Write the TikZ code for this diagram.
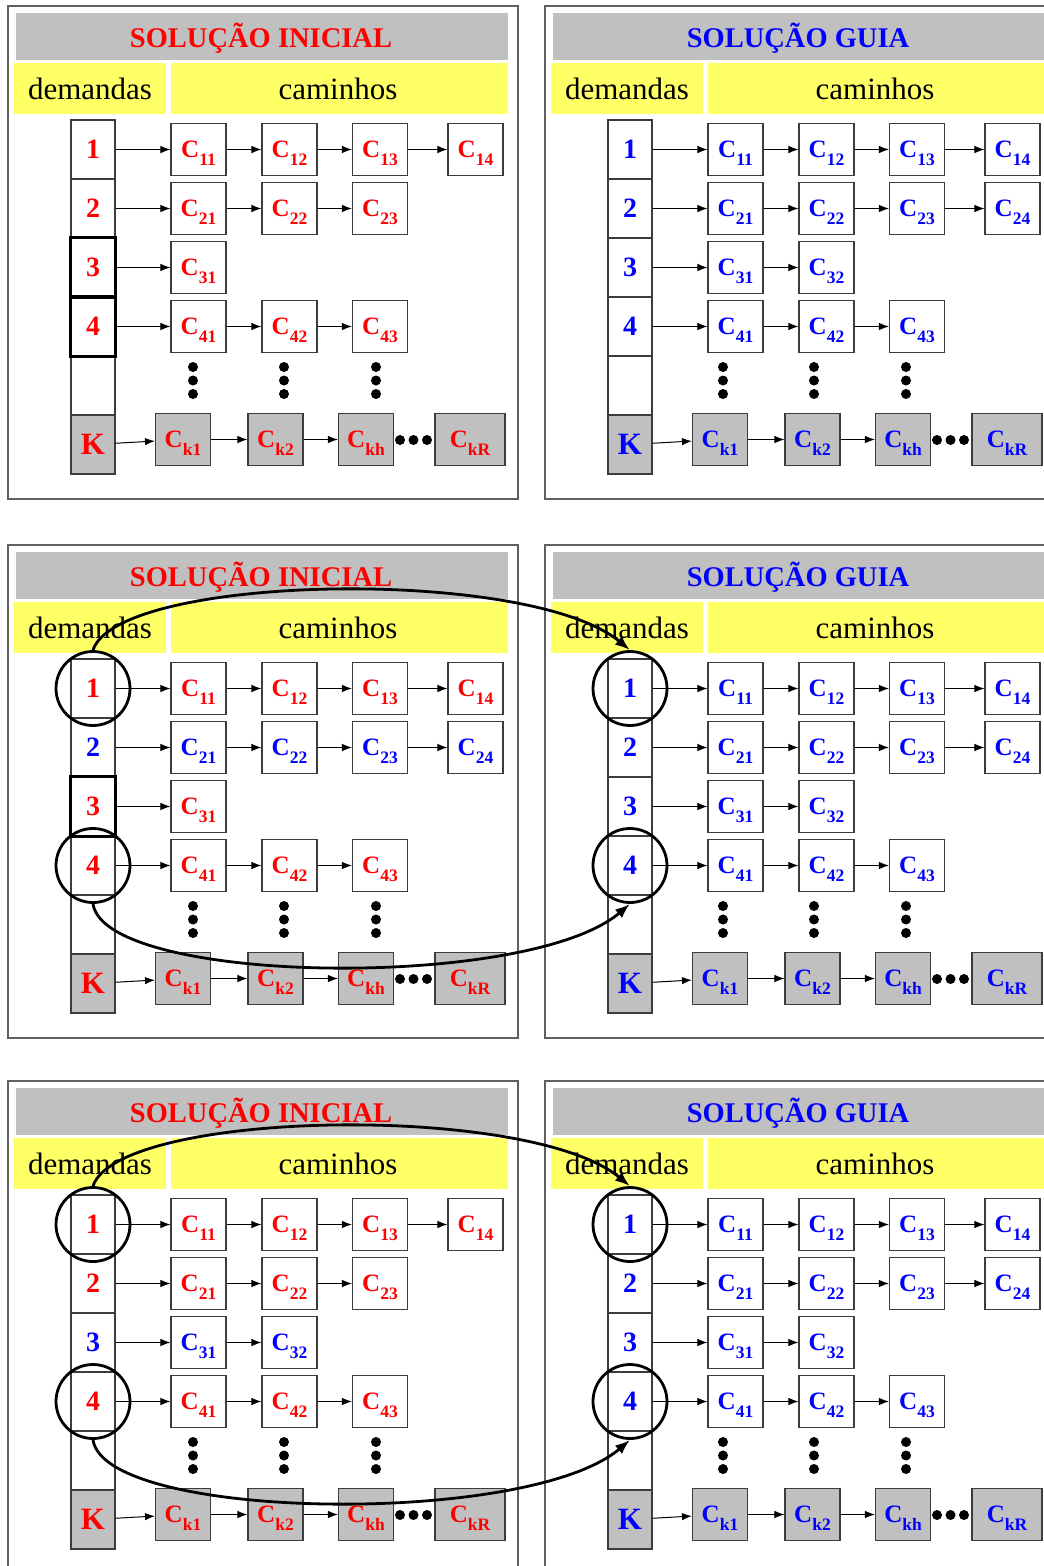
\documentclass[tikz,border=0pt]{standalone}
\usepackage{fontspec}
\setmainfont{Liberation Serif}
\usetikzlibrary{arrows.meta}
\definecolor{inired}{RGB}{255,0,0}
\definecolor{guiablue}{RGB}{0,0,255}
\definecolor{bargray}{RGB}{192,192,192}
\definecolor{headyellow}{RGB}{255,255,102}
\definecolor{framegray}{RGB}{96,96,96}
\definecolor{edgegray}{RGB}{60,60,60}
\newcommand{\csub}[1]{C\raisebox{-8pt}{\fontsize{17.5}{18}\selectfont #1}}

\begin{document}
\begin{tikzpicture}[x=1pt, y=-1pt, >=Latex, line join=miter,
  panel/.style={draw=framegray, line width=1.4pt},
  titletext/.style={font=\fontsize{28.5}{30}\selectfont\bfseries, inner sep=0pt, anchor=base},
  headtext/.style={font=\fontsize{31}{33}\selectfont, inner sep=0pt, anchor=base},
  demcell/.style={draw=edgegray, line width=1.1pt, minimum width=44pt, minimum height=59pt,
    inner sep=0pt, font=\fontsize{28}{28}\selectfont\bfseries},
  thickcell/.style={draw=black, line width=2.2pt},
  pathbox/.style={draw=edgegray, line width=1.1pt, minimum width=55pt, minimum height=52pt,
    inner sep=0pt, text height=20pt, text depth=4pt, font=\fontsize{25}{25}\selectfont\bfseries},
  kbox/.style={pathbox, fill=bargray},
  link/.style={-{Latex[length=10pt,width=7.5pt]}, line width=1pt},
  ring/.style={circle, draw, line width=2.8pt, minimum size=74pt, inner sep=0pt},
  swaparrow/.style={-{Latex[length=15pt,width=11pt]}, line width=2.8pt},
]
\useasboundingbox (0,0) rectangle (1044,1566);
\clip (0,0) rectangle (1044,1566);
\fill[white] (0,0) rectangle (1044,1566);

% ---------- six panels: initial solution (left), guide solution (right) ----------
\foreach \px/\py/\dsh/\ttl/\pcol/\colA/\colB/\colC/\colD/\lenA/\lenB/\lenC/\lenD [count=\i] in {
    0/0/0/INICIAL/inired/inired/inired/inired/inired/4/3/1/3,
    537/0/-7/GUIA/guiablue/guiablue/guiablue/guiablue/guiablue/4/4/2/3,
    0/539/0/INICIAL/inired/inired/guiablue/inired/inired/4/4/1/3,
    537/539/-7/GUIA/guiablue/guiablue/guiablue/guiablue/guiablue/4/4/2/3,
    0/1075/0/INICIAL/inired/inired/inired/guiablue/inired/4/3/2/3,
    537/1075/-7/GUIA/guiablue/guiablue/guiablue/guiablue/guiablue/4/4/2/3} {
\begin{scope}[shift={(\px,\py)}]
  \draw[panel] (8,6) rectangle (518,499);
  \fill[bargray] (16,13) rectangle (508,60);
  \fill[headyellow] (14,63) rectangle (166,114);
  \fill[headyellow] (171,63) rectangle (508,114);
  \node[titletext, text=\pcol] (title\i) at (261,47) {SOLUÇÃO \ttl};
  \node[headtext] (dem\i) at (90,99) {demandas};
  \node[headtext] (cam\i) at (338,99) {caminhos};

  % demands 1-4 and their paths
  \foreach \row/\rcol/\len in {1/\colA/\lenA, 2/\colB/\lenB, 3/\colC/\lenC, 4/\colD/\lenD} {
    \pgfmathsetmacro\ry{149.5+59*(\row-1)}
    \node[demcell, text=\rcol] (d\i-\row) at (93,\ry) {\row};
    \foreach \kk in {1,...,\len} {
      \pgfmathsetmacro\cx{{198.5,289.5,380,475.5}[\kk-1]}
      \pgfmathtruncatemacro\kp{\kk-1}
      \node[pathbox, text=\rcol] (c\i-\row-\kk) at (\cx,\ry) {\csub{\row\kk}};
      \ifnum\kk=1
        \draw[link] (d\i-\row) -- (c\i-\row-\kk);
      \else
        \draw[link] (c\i-\row-\kp) -- (c\i-\row-\kk);
      \fi
    }
  }

  % demand K
  \node[demcell] (d\i-5) at (93,385.5) {};
  \node[demcell, fill=bargray, text=\pcol, font=\fontsize{31}{31}\selectfont\bfseries] (d\i-k) at (93,444.5) {K};
  \foreach \kl/\cx/\kw in {1/183/55, 2/275.5/55, h/366/55, R/470/70}
    \node[kbox, minimum width=\kw, text=\pcol] (k\i-\kl) at (\cx,439.5) {\csub{k\kl}};
  \draw[link] (d\i-k) -- (k\i-1);
  \draw[link] (k\i-1) -- (k\i-2);
  \draw[link] (k\i-2) -- (k\i-h);
  \foreach \dx in {400,413.5,427} \fill (\dx,440) circle (5pt);
  \foreach \dx in {193,284,376}
    \foreach \dy in {367,380.5,394} \fill (\dx+\dsh,\dy) circle (5pt);
\end{scope}
}

\foreach \cell in {d1-3, d1-4, d3-3}
  \draw[thickcell] (\cell.north west) rectangle (\cell.south east);

% ---------- exchanged demands ----------
\foreach \i/\j in {3/4, 5/6} {
  \foreach \row in {1,4} {
    \node[ring] (ring\i-\row) at (d\i-\row) {};
    \node[ring] (ring\j-\row) at (d\j-\row) {};
  }
  \draw[swaparrow] (ring\i-1.north) .. controls +(25,-76) and +(-102,-84) .. (ring\j-1.north);
  \draw[swaparrow] (ring\i-4.south) .. controls +(12,81) and +(-102,87) .. (ring\j-4.south);
}

\end{tikzpicture}
\end{document}
